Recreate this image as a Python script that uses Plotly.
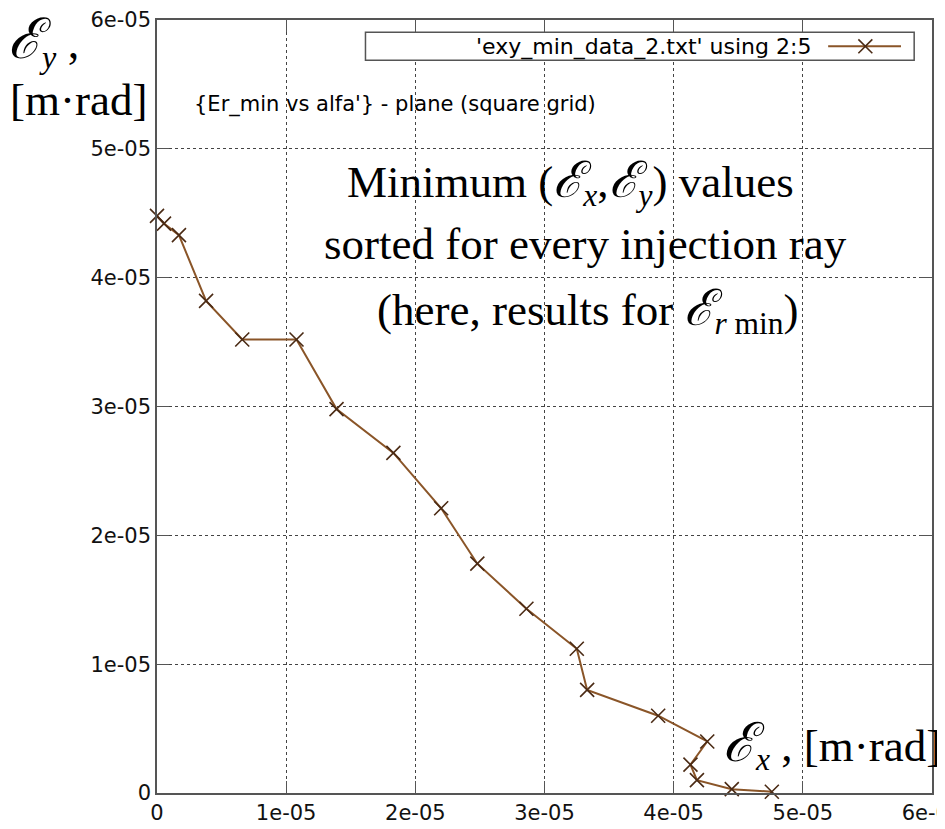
import plotly.graph_objects as go

# data
ex_vals = [0.0, 0.054e-05, 0.17e-05, 0.38e-05, 0.66e-05, 1.08e-05, 1.39e-05, 1.83e-05,
           2.20e-05, 2.48e-05, 2.86e-05, 3.25e-05, 3.33e-05, 3.88e-05, 4.26e-05, 4.13e-05,
           4.18e-05, 4.45e-05, 4.76e-05]
ey_vals = [4.48e-05, 4.42e-05, 4.33e-05, 3.82e-05, 3.52e-05, 3.52e-05, 2.98e-05, 2.64e-05,
           2.21e-05, 1.78e-05, 1.43e-05, 1.12e-05, 0.80e-05, 0.60e-05, 0.40e-05, 0.22e-05,
           0.10e-05, 0.03e-05, 0.01e-05]
tick_vals = [0, 1e-05, 2e-05, 3e-05, 4e-05, 5e-05, 6e-05]
tick_text = ["0", "1e-05", "2e-05", "3e-05", "4e-05", "5e-05", "6e-05"]
series_name = "'exy_min_data_2.txt' using 2:5"

LINE_COL = "#8a5528"
MARK_COL = "#4a2a14"
AXIS_COL = "#555555"

fig = go.Figure()
fig.add_trace(go.Scatter(
    x=ex_vals, y=ey_vals, mode="lines+markers", name=series_name,
    line=dict(color=LINE_COL, width=2),
    marker=dict(symbol="x-thin", size=14, line=dict(width=1.6, color=MARK_COL), color=MARK_COL),
    showlegend=False, cliponaxis=False,
))

axis_common = dict(
    range=[0, 6e-05], tickvals=tick_vals, ticktext=tick_text, automargin=False,
    showgrid=True, gridcolor="#444444", griddash="dot", gridwidth=1,
    zeroline=False, showline=True, linecolor=AXIS_COL, linewidth=1.5,
    mirror="allticks", ticks="inside", ticklen=12, tickcolor=AXIS_COL,
    tickfont=dict(family="DejaVu Sans", size=21, color="#111111"),
    ticklabeloverflow="allow",
)
fig.update_xaxes(**axis_common)
fig.update_yaxes(**axis_common)

serif = "Liberation Serif"
eps = '<span style="font-size:54px"><i>ℰ</i></span>'
eps_m = '<span style="font-size:50px"><i>ℰ</i></span>'
annotations = [
    dict(x=-0.195, y=0.972, xanchor="left", text=eps.replace("54", "56") + "<sub><i>y</i></sub> ,",
         font=dict(family=serif, size=46)),
    dict(x=-0.192, y=0.897, xanchor="left", text="[m·rad]", font=dict(family=serif, size=45)),
    dict(x=0.728, y=0.062, xanchor="left", text=eps + "<sub><i>x</i></sub> , [m·rad]", font=dict(family=serif, size=45)),
    dict(x=0.045, y=0.891, text="{Er_min vs alfa'} - plane (square grid)", xanchor="left",
         font=dict(family="DejaVu Sans", size=21)),
    dict(x=0.533, y=0.790, text="Minimum (" + eps_m + "<sub><i>x</i></sub>," + eps_m + "<sub><i>y</i></sub>) values",
         font=dict(family=serif, size=45)),
    dict(x=0.553, y=0.710, text="sorted for every injection ray", font=dict(family=serif, size=45)),
    dict(x=0.556, y=0.624, text="(here, results for " + eps_m + "<sub><i>r</i></sub><sub> min</sub>)",
         font=dict(family=serif, size=45)),
    dict(x=0.846, y=0.965, text=series_name, xanchor="right", font=dict(family="DejaVu Sans", size=22)),
]
for a in annotations:
    a.setdefault("xanchor", "center")
    a.update(xref="paper", yref="paper", yanchor="middle", showarrow=False)
    a["font"].setdefault("color", "black")
    fig.add_annotation(**a)

# legend box drawn gnuplot-style (text then sample)
fig.add_shape(type="rect", xref="paper", yref="paper", x0=0.269, x1=0.977, y0=0.948, y1=0.984,
              line=dict(color=AXIS_COL, width=1.5), fillcolor="white", layer="above")
fig.add_shape(type="line", xref="paper", yref="paper", x0=0.866, x1=0.960, y0=0.966, y1=0.966,
              line=dict(color=LINE_COL, width=2), layer="above")
for s in (1, -1):
    fig.add_shape(type="line", xref="paper", yref="paper",
                  x0=0.914 - 0.009, x1=0.914 + 0.009, y0=0.966 - 0.009 * s, y1=0.966 + 0.009 * s,
                  line=dict(color=MARK_COL, width=1.6), layer="above")

# the page body has an 8px margin, so the figure is sized to fit the 945x829 window
fig.update_layout(
    width=937, height=821, margin=dict(l=149, r=13, t=12, b=36),
    plot_bgcolor="white", paper_bgcolor="white", showlegend=False,
)
fig.write_html("out.html")
